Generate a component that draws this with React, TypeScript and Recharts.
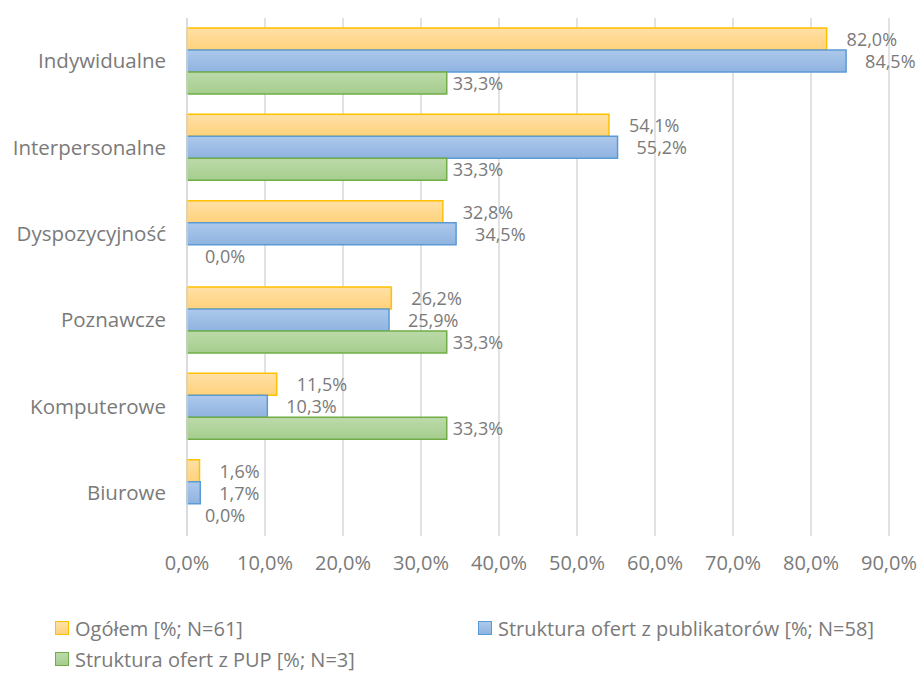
import { BarChart, Bar, XAxis, YAxis, CartesianGrid, LabelList, Rectangle } from 'recharts'

const categories = ['Indywidualne', 'Interpersonalne', 'Dyspozycyjność', 'Poznawcze', 'Komputerowe', 'Biurowe']
const ogolem = [82.0, 54.1, 32.8, 26.2, 11.5, 1.6]
const publikatory = [84.5, 55.2, 34.5, 25.9, 10.3, 1.7]
const pup = [33.3, 33.3, 0.0, 33.3, 33.3, 0.0]
const ticks = [0, 10, 20, 30, 40, 50, 60, 70, 80, 90]
const seriesNames = ['Ogółem [%; N=61]', 'Struktura ofert z publikatorów [%; N=58]', 'Struktura ofert z PUP [%; N=3]']

const data = categories.map((name, i) => ({
  name,
  ogolem: ogolem[i],
  publikatory: publikatory[i],
  pup: pup[i],
}))

const font = '"Open Sans", sans-serif'
const textColor = '#7a7a7a'

const fmt = (v: number) => v.toFixed(1).replace('.', ',') + '%'

const series = [
  { key: 'ogolem', stroke: '#ffc000', top: '#ffe0a6', bottom: '#ffd27c', offset: 20 },
  { key: 'publikatory', stroke: '#5b9bd5', top: '#adc9ec', bottom: '#8fb3e0', offset: 19 },
  { key: 'pup', stroke: '#70ad47', top: '#bcdaa9', bottom: '#a5cd8e', offset: 6 },
]

const makeLabel = (offset: number) => (props: any) => {
  const { x, y, width, height, value } = props
  const dx = value === 0 ? 18 : offset
  return (
    <text
      x={x + width + dx}
      y={y + height / 2}
      dominantBaseline="central"
      fill={textColor}
      fontSize={18}
      fontFamily={font}
    >
      {fmt(value)}
    </text>
  )
}

// hide the tiny placeholder bar used for zero values
const barShape = (props: any) => {
  if (props.width < 1) return <g />
  return <Rectangle {...props} />
}

export default function App() {
  return (
    <div style={{ position: 'absolute', left: 0, top: 0, width: 922, height: 675, background: '#fff', fontFamily: font }}>
      <BarChart
        width={922}
        height={600}
        data={data}
        layout="vertical"
        margin={{ top: 18, right: 33, left: 0, bottom: 0 }}
        barGap={0}
        barSize={22}
      >
        <defs>
          {series.map((s) => (
            <linearGradient key={s.key} id={`grad-${s.key}`} x1="0" y1="0" x2="0" y2="1">
              <stop offset="0%" stopColor={s.top} />
              <stop offset="100%" stopColor={s.bottom} />
            </linearGradient>
          ))}
        </defs>
        <CartesianGrid horizontal={false} stroke="#d9d9d9" strokeWidth={1.5} />
        <XAxis
          type="number"
          domain={[0, 90]}
          ticks={ticks}
          tickFormatter={fmt}
          axisLine={false}
          tickLine={false}
          tickSize={0}
          tickMargin={20}
          height={64}
          tick={{ fill: textColor, fontSize: 20, fontFamily: font }}
          interval={0}
        />
        <YAxis
          type="category"
          dataKey="name"
          width={187}
          axisLine={{ stroke: '#d9d9d9', strokeWidth: 1.5 }}
          tickLine={false}
          tickSize={0}
          tickMargin={21}
          tick={{ fill: textColor, fontSize: 20.5, fontFamily: font }}
          interval={0}
        />
        {series.map((s) => (
          <Bar
            key={s.key}
            dataKey={s.key}
            fill={`url(#grad-${s.key})`}
            stroke={s.stroke}
            strokeWidth={1.5}
            minPointSize={0.01}
            shape={barShape}
            isAnimationActive={false}
          >
            <LabelList dataKey={s.key} content={makeLabel(s.offset)} />
          </Bar>
        ))}
      </BarChart>
      {[
        { left: 55, top: 621 },
        { left: 478, top: 621 },
        { left: 55, top: 652 },
      ].map((pos, i) => (
        <div
          key={i}
          style={{
            position: 'absolute',
            left: pos.left,
            top: pos.top - 6,
            display: 'flex',
            alignItems: 'center',
            height: 26,
            fontSize: 20,
            color: textColor,
            whiteSpace: 'nowrap',
          }}
        >
          <span
            style={{
              display: 'inline-block',
              width: 12,
              height: 12,
              background: `linear-gradient(${series[i].top}, ${series[i].bottom})`,
              border: `1.5px solid ${series[i].stroke}`,
              marginRight: 6,
            }}
          />
          {seriesNames[i]}
        </div>
      ))}
    </div>
  )
}
